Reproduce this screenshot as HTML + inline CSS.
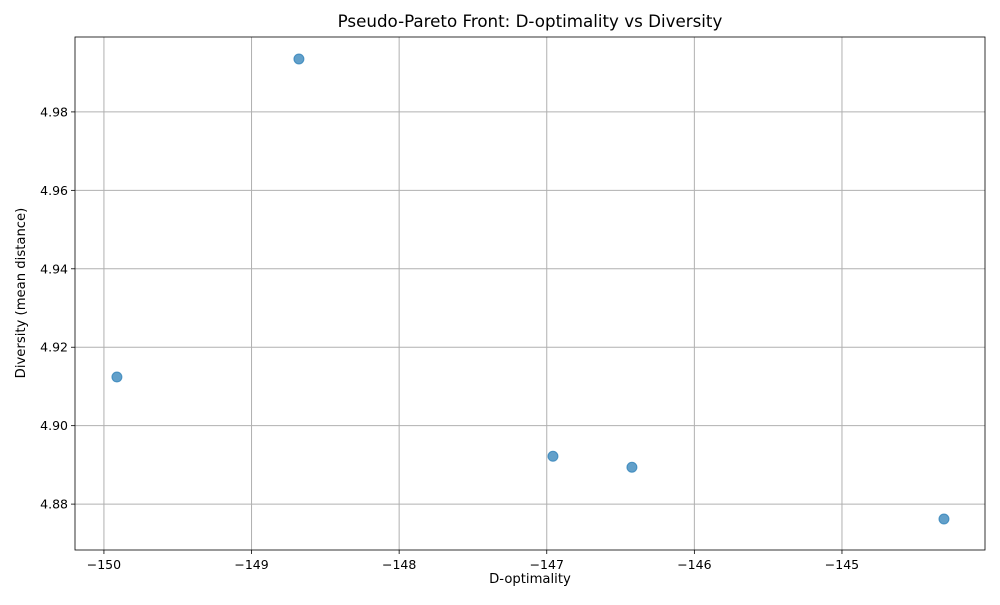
<!DOCTYPE html>
<html><head><meta charset="utf-8"><style>
body{margin:0;background:#fff;font-family:"Liberation Sans","DejaVu Sans",sans-serif}
svg text{font-family:"DejaVu Sans","Liberation Sans",sans-serif}
</style></head><body>
<svg id="chart" width="1000" height="600" xmlns="http://www.w3.org/2000/svg">
<rect width="1000" height="600" fill="#fff"/>
<g id="grid"></g><g id="pts"></g><g id="axes"></g>
<text x="530" y="27" text-anchor="middle" font-size="16.7">Pseudo-Pareto Front: D-optimality vs Diversity</text>
<text x="530" y="583" text-anchor="middle" font-size="13.2">D-optimality</text>
<text x="25" y="293" text-anchor="middle" font-size="13.2" transform="rotate(-90 25 293)">Diversity (mean distance)</text>
</svg>
<script>
const xVals=[-149.912,-148.679,-146.958,-146.423,-144.309];
const yVals=[4.9124,4.9935,4.8922,4.8894,4.8762];
const xTicks=[-150,-149,-148,-147,-146,-145];
const yTicks=[4.88,4.90,4.92,4.94,4.96,4.98];
const L=75,R=985,T=37,B=550;
const xMin=-150.196,xMax=-144.031,yMin=4.8683,yMax=4.9991;
const X=v=>L+(v-xMin)/(xMax-xMin)*(R-L);
const Y=v=>B-(v-yMin)/(yMax-yMin)*(B-T);
const NS="http://www.w3.org/2000/svg";
function mk(tag,attrs,parent){const e=document.createElementNS(NS,tag);for(const k in attrs)e.setAttribute(k,attrs[k]);parent.appendChild(e);return e;}
const grid=document.getElementById('grid'),axes=document.getElementById('axes'),pts=document.getElementById('pts');
xTicks.forEach(t=>{const x=X(t);
const g=mk('line',{x1:x,x2:x,y1:T,y2:B,stroke:'#b0b0b0','stroke-width':1},grid);


mk('line',{x1:x,x2:x,y1:B,y2:B+4,stroke:'#000','stroke-width':0.8},axes);
const tx=mk('text',{x:x,y:B+19,'text-anchor':'middle','font-size':12.5},axes);tx.textContent='\u2212'+Math.abs(t);

});
yTicks.forEach(t=>{const y=Y(t);
const g=mk('line',{x1:L,x2:R,y1:y,y2:y,stroke:'#b0b0b0','stroke-width':1},grid);


mk('line',{x1:L-4,x2:L,y1:y,y2:y,stroke:'#000','stroke-width':0.8},axes);
const tx=mk('text',{x:L-7,y:y+4.5,'text-anchor':'end','font-size':12.5},axes);tx.textContent=t.toFixed(2);

});
const fr=mk('rect',{x:L,y:T,width:R-L,height:B-T,fill:'none',stroke:'#000','stroke-width':0.8},axes);


xVals.forEach((v,i)=>{const c=mk('circle',{cx:X(v),cy:Y(yVals[i]),r:5,fill:'#1f77b4','fill-opacity':0.7,stroke:'#1f77b4','stroke-opacity':0.7},pts);

});
</script>
</body></html>
